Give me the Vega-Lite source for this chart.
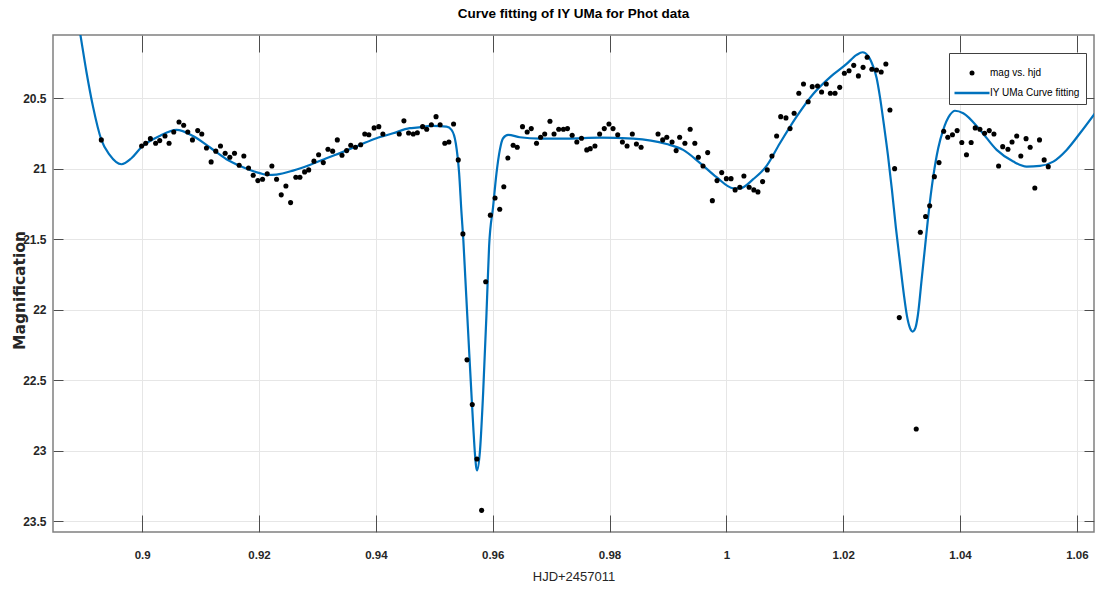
{
  "$schema": "https://vega.github.io/schema/vega-lite/v6.json",
  "width": 1041,
  "height": 497,
  "autosize": {"type": "none"},
  "padding": {"left": 53, "top": 35, "right": 1, "bottom": 62},
  "background": "white",
  "title": {
    "text": "Curve fitting of IY UMa for Phot data",
    "font": "Liberation Sans",
    "fontSize": 13.5,
    "fontWeight": "bold",
    "color": "#000000",
    "anchor": "middle",
    "offset": 14
  },
  "config": {
    "view": {"stroke": "#808080", "strokeWidth": 1.5},
    "axis": {
      "labelFont": "Liberation Sans",
      "labelColor": "#262626",
      "titleFont": "Liberation Sans",
      "titleColor": "#262626",
      "gridColor": "#e6e6e6",
      "gridOpacity": 1,
      "tickColor": "#4d4d4d",
      "domain": false
    }
  },
  "datasets": {
    "obs": [
      {"hjd":0.8930,"mag":20.794},{"hjd":0.8999,"mag":20.837},{"hjd":0.9006,"mag":20.818},{"hjd":0.9014,"mag":20.785},{"hjd":0.9023,"mag":20.818},{"hjd":0.9030,"mag":20.799},{"hjd":0.9039,"mag":20.766},{"hjd":0.9046,"mag":20.818},{"hjd":0.9054,"mag":20.738},{"hjd":0.9063,"mag":20.667},{"hjd":0.9071,"mag":20.690},{"hjd":0.9078,"mag":20.738},{"hjd":0.9086,"mag":20.794},{"hjd":0.9095,"mag":20.728},{"hjd":0.9102,"mag":20.752},{"hjd":0.9110,"mag":20.851},{"hjd":0.9118,"mag":20.950},{"hjd":0.9126,"mag":20.874},{"hjd":0.9134,"mag":20.837},{"hjd":0.9142,"mag":20.889},{"hjd":0.9150,"mag":20.917},{"hjd":0.9158,"mag":20.889},{"hjd":0.9166,"mag":20.974},{"hjd":0.9174,"mag":20.908},{"hjd":0.9182,"mag":20.993},{"hjd":0.9190,"mag":21.045},{"hjd":0.9198,"mag":21.083},{"hjd":0.9206,"mag":21.073},{"hjd":0.9214,"mag":21.035},{"hjd":0.9222,"mag":20.979},{"hjd":0.9230,"mag":21.073},{"hjd":0.9238,"mag":21.184},{"hjd":0.9246,"mag":21.121},{"hjd":0.9254,"mag":21.239},{"hjd":0.9263,"mag":21.059},{"hjd":0.9270,"mag":21.059},{"hjd":0.9278,"mag":21.021},{"hjd":0.9285,"mag":21.007},{"hjd":0.9294,"mag":20.945},{"hjd":0.9302,"mag":20.899},{"hjd":0.9310,"mag":20.955},{"hjd":0.9318,"mag":20.860},{"hjd":0.9326,"mag":20.874},{"hjd":0.9334,"mag":20.794},{"hjd":0.9342,"mag":20.903},{"hjd":0.9350,"mag":20.870},{"hjd":0.9357,"mag":20.832},{"hjd":0.9365,"mag":20.846},{"hjd":0.9374,"mag":20.828},{"hjd":0.9381,"mag":20.752},{"hjd":0.9388,"mag":20.757},{"hjd":0.9397,"mag":20.709},{"hjd":0.9405,"mag":20.700},{"hjd":0.9412,"mag":20.752},{"hjd":0.9440,"mag":20.752},{"hjd":0.9448,"mag":20.659},{"hjd":0.9456,"mag":20.745},{"hjd":0.9464,"mag":20.752},{"hjd":0.9471,"mag":20.743},{"hjd":0.9480,"mag":20.700},{"hjd":0.9487,"mag":20.718},{"hjd":0.9495,"mag":20.686},{"hjd":0.9503,"mag":20.629},{"hjd":0.9510,"mag":20.686},{"hjd":0.9518,"mag":20.818},{"hjd":0.9525,"mag":20.809},{"hjd":0.9533,"mag":20.681},{"hjd":0.9541,"mag":20.936},{"hjd":0.9549,"mag":21.461},{"hjd":0.9556,"mag":22.355},{"hjd":0.9565,"mag":22.672},{"hjd":0.9573,"mag":23.059},{"hjd":0.9581,"mag":23.423},{"hjd":0.9588,"mag":21.801},{"hjd":0.9596,"mag":21.328},{"hjd":0.9604,"mag":21.206},{"hjd":0.9612,"mag":21.286},{"hjd":0.9619,"mag":21.126},{"hjd":0.9626,"mag":20.922},{"hjd":0.9635,"mag":20.832},{"hjd":0.9642,"mag":20.846},{"hjd":0.9651,"mag":20.700},{"hjd":0.9659,"mag":20.738},{"hjd":0.9666,"mag":20.714},{"hjd":0.9675,"mag":20.818},{"hjd":0.9682,"mag":20.775},{"hjd":0.9689,"mag":20.752},{"hjd":0.9698,"mag":20.662},{"hjd":0.9705,"mag":20.752},{"hjd":0.9713,"mag":20.718},{"hjd":0.9721,"mag":20.718},{"hjd":0.9728,"mag":20.714},{"hjd":0.9736,"mag":20.761},{"hjd":0.9744,"mag":20.809},{"hjd":0.9752,"mag":20.782},{"hjd":0.9761,"mag":20.865},{"hjd":0.9767,"mag":20.856},{"hjd":0.9775,"mag":20.837},{"hjd":0.9783,"mag":20.752},{"hjd":0.9791,"mag":20.714},{"hjd":0.9799,"mag":20.681},{"hjd":0.9806,"mag":20.714},{"hjd":0.9814,"mag":20.757},{"hjd":0.9822,"mag":20.809},{"hjd":0.9830,"mag":20.837},{"hjd":0.9839,"mag":20.752},{"hjd":0.9846,"mag":20.823},{"hjd":0.9854,"mag":20.846},{"hjd":0.9883,"mag":20.752},{"hjd":0.9891,"mag":20.794},{"hjd":0.9898,"mag":20.775},{"hjd":0.9907,"mag":20.809},{"hjd":0.9914,"mag":20.870},{"hjd":0.9920,"mag":20.775},{"hjd":0.9929,"mag":20.818},{"hjd":0.9938,"mag":20.718},{"hjd":0.9946,"mag":20.818},{"hjd":0.9952,"mag":20.917},{"hjd":0.9960,"mag":20.979},{"hjd":0.9968,"mag":20.884},{"hjd":0.9976,"mag":21.225},{"hjd":0.9984,"mag":21.083},{"hjd":0.9992,"mag":21.026},{"hjd":1.0000,"mag":21.069},{"hjd":1.0008,"mag":21.069},{"hjd":1.0015,"mag":21.149},{"hjd":1.0023,"mag":21.130},{"hjd":1.0030,"mag":21.050},{"hjd":1.0039,"mag":21.130},{"hjd":1.0047,"mag":21.149},{"hjd":1.0054,"mag":21.163},{"hjd":1.0062,"mag":21.090},{"hjd":1.0070,"mag":21.007},{"hjd":1.0078,"mag":20.908},{"hjd":1.0086,"mag":20.766},{"hjd":1.0093,"mag":20.629},{"hjd":1.0102,"mag":20.638},{"hjd":1.0109,"mag":20.714},{"hjd":1.0116,"mag":20.605},{"hjd":1.0124,"mag":20.463},{"hjd":1.0132,"mag":20.397},{"hjd":1.0140,"mag":20.523},{"hjd":1.0147,"mag":20.416},{"hjd":1.0156,"mag":20.411},{"hjd":1.0163,"mag":20.454},{"hjd":1.0171,"mag":20.397},{"hjd":1.0178,"mag":20.463},{"hjd":1.0186,"mag":20.463},{"hjd":1.0194,"mag":20.421},{"hjd":1.0202,"mag":20.321},{"hjd":1.0210,"mag":20.303},{"hjd":1.0218,"mag":20.265},{"hjd":1.0226,"mag":20.340},{"hjd":1.0234,"mag":20.279},{"hjd":1.0241,"mag":20.208},{"hjd":1.0249,"mag":20.293},{"hjd":1.0257,"mag":20.298},{"hjd":1.0265,"mag":20.312},{"hjd":1.0273,"mag":20.255},{"hjd":1.0280,"mag":20.582},{"hjd":1.0288,"mag":20.998},{"hjd":1.0296,"mag":22.055},{"hjd":1.0325,"mag":22.846},{"hjd":1.0332,"mag":21.449},{"hjd":1.0341,"mag":21.338},{"hjd":1.0348,"mag":21.262},{"hjd":1.0356,"mag":21.055},{"hjd":1.0364,"mag":20.955},{"hjd":1.0372,"mag":20.733},{"hjd":1.0379,"mag":20.775},{"hjd":1.0387,"mag":20.757},{"hjd":1.0395,"mag":20.728},{"hjd":1.0403,"mag":20.813},{"hjd":1.0411,"mag":20.899},{"hjd":1.0419,"mag":20.813},{"hjd":1.0426,"mag":20.709},{"hjd":1.0434,"mag":20.718},{"hjd":1.0442,"mag":20.747},{"hjd":1.0450,"mag":20.728},{"hjd":1.0458,"mag":20.752},{"hjd":1.0466,"mag":20.979},{"hjd":1.0473,"mag":20.842},{"hjd":1.0482,"mag":20.860},{"hjd":1.0489,"mag":20.809},{"hjd":1.0497,"mag":20.766},{"hjd":1.0504,"mag":20.908},{"hjd":1.0513,"mag":20.785},{"hjd":1.0520,"mag":20.846},{"hjd":1.0528,"mag":21.135},{"hjd":1.0536,"mag":20.794},{"hjd":1.0544,"mag":20.936},{"hjd":1.0551,"mag":20.984}
    ],
    "fit": [
      {"hjd":0.88923,"mag":20.0},{"hjd":0.88942,"mag":20.048},{"hjd":0.89045,"mag":20.310},{"hjd":0.89158,"mag":20.558},{"hjd":0.89301,"mag":20.794},{"hjd":0.89443,"mag":20.901},{"hjd":0.89644,"mag":20.967},{"hjd":0.89815,"mag":20.924},{"hjd":0.89986,"mag":20.846},{"hjd":0.90300,"mag":20.766},{"hjd":0.90586,"mag":20.723},{"hjd":0.90870,"mag":20.766},{"hjd":0.91156,"mag":20.846},{"hjd":0.91442,"mag":20.931},{"hjd":0.91726,"mag":20.988},{"hjd":0.92012,"mag":21.030},{"hjd":0.92154,"mag":21.043},{"hjd":0.92298,"mag":21.040},{"hjd":0.92582,"mag":21.012},{"hjd":0.92868,"mag":20.972},{"hjd":0.93154,"mag":20.924},{"hjd":0.93438,"mag":20.879},{"hjd":0.93724,"mag":20.830},{"hjd":0.94010,"mag":20.782},{"hjd":0.94294,"mag":20.747},{"hjd":0.94580,"mag":20.711},{"hjd":0.94695,"mag":20.707},{"hjd":0.94979,"mag":20.695},{"hjd":0.95209,"mag":20.700},{"hjd":0.95295,"mag":20.723},{"hjd":0.95368,"mag":20.818},{"hjd":0.95425,"mag":21.030},{"hjd":0.95466,"mag":21.314},{"hjd":0.95497,"mag":21.504},{"hjd":0.95531,"mag":21.773},{"hjd":0.95565,"mag":22.043},{"hjd":0.95599,"mag":22.312},{"hjd":0.95634,"mag":22.582},{"hjd":0.95668,"mag":22.837},{"hjd":0.95697,"mag":23.028},{"hjd":0.95716,"mag":23.113},{"hjd":0.95733,"mag":23.140},{"hjd":0.95779,"mag":23.016},{"hjd":0.95836,"mag":22.591},{"hjd":0.95894,"mag":22.023},{"hjd":0.95938,"mag":21.551},{"hjd":0.96007,"mag":21.267},{"hjd":0.96065,"mag":21.030},{"hjd":0.96122,"mag":20.865},{"hjd":0.96178,"mag":20.782},{"hjd":0.96264,"mag":20.759},{"hjd":0.96464,"mag":20.775},{"hjd":0.96807,"mag":20.785},{"hjd":0.97264,"mag":20.785},{"hjd":0.97834,"mag":20.778},{"hjd":0.98404,"mag":20.785},{"hjd":0.98976,"mag":20.823},{"hjd":0.99260,"mag":20.865},{"hjd":0.99546,"mag":20.957},{"hjd":0.99832,"mag":21.059},{"hjd":1.00116,"mag":21.137},{"hjd":1.00231,"mag":21.138},{"hjd":1.00459,"mag":21.073},{"hjd":1.00688,"mag":20.979},{"hjd":1.00916,"mag":20.818},{"hjd":1.01202,"mag":20.629},{"hjd":1.01486,"mag":20.468},{"hjd":1.01772,"mag":20.350},{"hjd":1.02058,"mag":20.255},{"hjd":1.02229,"mag":20.191},{"hjd":1.02332,"mag":20.172},{"hjd":1.02428,"mag":20.199},{"hjd":1.02514,"mag":20.274},{"hjd":1.02572,"mag":20.355},{"hjd":1.02628,"mag":20.487},{"hjd":1.02697,"mag":20.688},{"hjd":1.02765,"mag":20.901},{"hjd":1.02834,"mag":21.149},{"hjd":1.02902,"mag":21.418},{"hjd":1.02971,"mag":21.660},{"hjd":1.03039,"mag":21.894},{"hjd":1.03091,"mag":22.043},{"hjd":1.03142,"mag":22.128},{"hjd":1.03188,"mag":22.154},{"hjd":1.03236,"mag":22.128},{"hjd":1.03279,"mag":22.035},{"hjd":1.03342,"mag":21.787},{"hjd":1.03399,"mag":21.560},{"hjd":1.03455,"mag":21.338},{"hjd":1.03541,"mag":21.055},{"hjd":1.03627,"mag":20.851},{"hjd":1.03712,"mag":20.723},{"hjd":1.03827,"mag":20.617},{"hjd":1.03913,"mag":20.587},{"hjd":1.04055,"mag":20.605},{"hjd":1.04341,"mag":20.723},{"hjd":1.04627,"mag":20.865},{"hjd":1.04911,"mag":20.948},{"hjd":1.05140,"mag":20.984},{"hjd":1.05368,"mag":20.979},{"hjd":1.05596,"mag":20.948},{"hjd":1.05825,"mag":20.865},{"hjd":1.06053,"mag":20.747},{"hjd":1.06310,"mag":20.605}
    ]
  },
  "layer": [
    {
      "data": {"name": "fit"},
      "mark": {"type": "line", "clip": true, "strokeWidth": 2.2, "interpolate": "monotone"},
      "encoding": {
        "x": {
          "field": "hjd", "type": "quantitative",
          "scale": {"domain": [0.88473, 1.06293], "nice": false, "zero": false},
          "axis": {
            "orient": "bottom",
            "title": "HJD+2457011",
            "titleFontSize": 13,
            "titleFontWeight": "normal",
            "titlePadding": 10,
            "values": [0.9, 0.92, 0.94, 0.96, 0.98, 1, 1.02, 1.04, 1.06],
            "labelExpr": "format(datum.value, '~g')",
            "labelFontSize": 11.5,
            "labelFontWeight": "bold",
            "tickSize": -17,
            "labelPadding": 34,
            "grid": true
          }
        },
        "y": {
          "field": "mag", "type": "quantitative",
          "scale": {"domain": [20.0496, 23.5766], "nice": false, "zero": false, "reverse": true},
          "axis": {
            "orient": "left",
            "title": "Magnification",
            "titleFont": "DejaVu Sans",
            "titleFontSize": 15.5,
            "titleFontWeight": "bold",
            "titleColor": "#262626",
            "titleAngle": 270,
            "titleAlign": "center",
            "titleBaseline": "middle",
            "titleX": -34,
            "titleY": 255,
            "values": [20.5, 21, 21.5, 22, 22.5, 23, 23.5],
            "labelExpr": "format(datum.value, '~g')",
            "labelFontSize": 12,
            "labelFontWeight": "bold",
            "tickSize": -10,
            "labelPadding": 17,
            "grid": true
          }
        },
        "color": {
          "datum": "IY UMa Curve fitting",
          "type": "nominal",
          "scale": {"domain": ["mag vs. hjd", "IY UMa Curve fitting"], "range": ["#000000", "#0072BD"]},
          "legend": {
            "title": " ",
            "titleFontSize": 9,
            "titlePadding": 0,
            "orient": "none",
            "legendX": 896,
            "legendY": 18,
            "fillColor": "white",
            "strokeColor": "#404040",
            "padding": 6,
            "rowPadding": 10,
            "symbolSize": 110,
            "labelFont": "Liberation Sans",
            "labelFontSize": 10,
            "labelColor": "#000000",
            "labelOffset": 13,
            "symbolOffset": 12,
            "encode": {
              "symbols": {
                "update": {
                  "shape": {"signal": "datum.value === 'mag vs. hjd' ? 'circle' : 'stroke'"},
                  "size": {"signal": "datum.value === 'mag vs. hjd' ? 25 : 1225"},
                  "strokeWidth": {"signal": "datum.value === 'mag vs. hjd' ? 0 : 2.5"},
                  "fill": {"signal": "datum.value === 'mag vs. hjd' ? '#000000' : 'transparent'"},
                  "stroke": {"signal": "datum.value === 'mag vs. hjd' ? '#000000' : '#0072BD'"},
                  "opacity": {"value": 1}
                }
              }
            }
          }
        }
      }
    },
    {
      "data": {"name": "obs"},
      "mark": {"type": "point", "filled": true, "size": 26, "opacity": 1},
      "encoding": {
        "x": {
          "field": "hjd", "type": "quantitative",
          "axis": {
            "orient": "top", "title": null, "labels": false, "grid": false,
            "values": [0.9, 0.92, 0.94, 0.96, 0.98, 1, 1.02, 1.04, 1.06],
            "tickSize": -17
          }
        },
        "y": {
          "field": "mag", "type": "quantitative",
          "axis": {
            "orient": "right", "title": null, "labels": false, "grid": false,
            "values": [20.5, 21, 21.5, 22, 22.5, 23, 23.5],
            "tickSize": -10
          }
        },
        "color": {"datum": "mag vs. hjd", "type": "nominal"}
      }
    }
  ],
  "resolve": {"axis": {"x": "independent", "y": "independent"}}
}
